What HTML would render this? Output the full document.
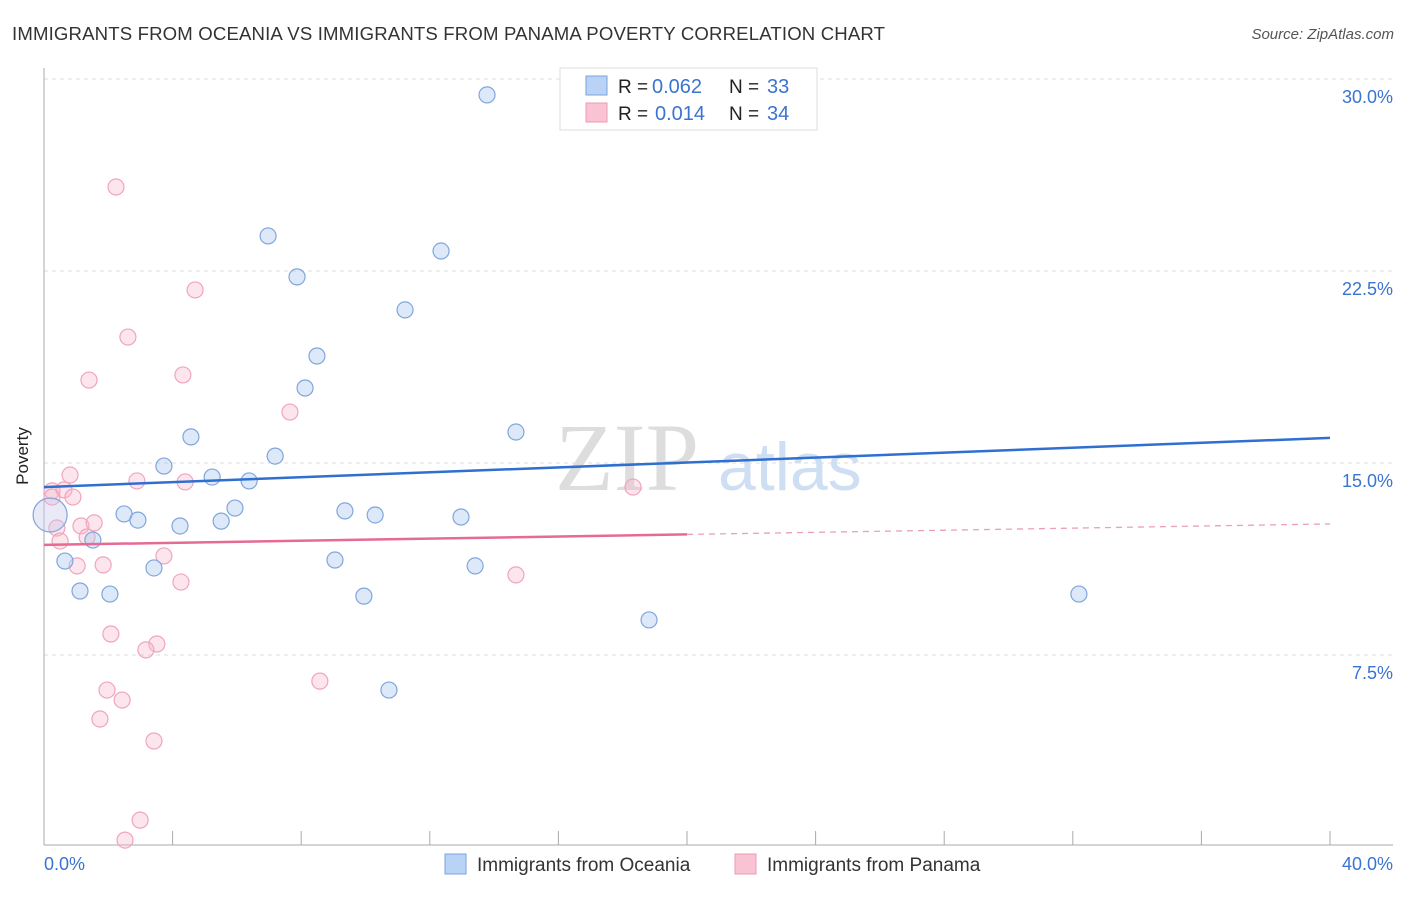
<!DOCTYPE html>
<html><head><meta charset="utf-8"><style>
body{margin:0;background:#fff;font-family:"Liberation Sans",sans-serif}
</style></head><body>
<svg width="1406" height="892" font-family="Liberation Sans, sans-serif">
<text x="12" y="40" font-size="18.6" fill="#333" textLength="873">IMMIGRANTS FROM OCEANIA VS IMMIGRANTS FROM PANAMA POVERTY CORRELATION CHART</text>
<text x="1394" y="39" font-size="15" fill="#555" font-style="italic" text-anchor="end">Source: ZipAtlas.com</text>
<text x="555" y="490" font-size="96" fill="#ddd" font-family="Liberation Serif, serif">ZIP</text>
<text x="718" y="490" font-size="68" fill="#cfdff3">atlas</text>
<g id="grid"></g>
<line x1="44" y1="68" x2="44" y2="845" stroke="#aaa"/>
<line x1="44" y1="845" x2="1393" y2="845" stroke="#aaa"/>
<text x="28" y="456" font-size="17" fill="#222" transform="rotate(-90 28 456)" text-anchor="middle">Poverty</text>
<text x="44" y="870" font-size="18" fill="#3a74d0">0.0%</text>
<text x="1393" y="870" font-size="18" fill="#3a74d0" text-anchor="end">40.0%</text>
<g id="pts"></g>
<g id="lines"></g>
<g>
<rect x="560" y="68" width="257" height="62" fill="#fff" stroke="#ddd"/>
<rect x="586" y="76" width="21" height="19" fill="#b8d3f5" stroke="#7ba3dc"/>
<rect x="586" y="103" width="21" height="19" fill="#f9c3d3" stroke="#eb9ab3"/>
<text x="618" y="93" font-size="19" fill="#222">R =</text>
<text x="652" y="93" font-size="20" fill="#3a74d0">0.062</text>
<text x="729" y="93" font-size="19" fill="#222">N =</text>
<text x="767" y="93" font-size="20" fill="#3a74d0">33</text>
<text x="618" y="120" font-size="19" fill="#222">R =</text>
<text x="655" y="120" font-size="20" fill="#3a74d0">0.014</text>
<text x="729" y="120" font-size="19" fill="#222">N =</text>
<text x="767" y="120" font-size="20" fill="#3a74d0">34</text>
</g>
<g>
<rect x="445" y="854" width="21" height="20" fill="#b8d3f5" stroke="#7ba3dc"/>
<text x="477" y="871" font-size="19" fill="#333">Immigrants from Oceania</text>
<rect x="735" y="854" width="21" height="20" fill="#f9c3d3" stroke="#eb9ab3"/>
<text x="767" y="871" font-size="19" fill="#333">Immigrants from Panama</text>
</g>
</svg>
<script>
const yTicks=[7.5,15,22.5,30];
const yTickLabels=["7.5%","15.0%","22.5%","30.0%"];
const blueX=[13.78,6.97,12.35,7.87,11.23,8.49,8.12,4.57,14.68,3.73,7.19,5.23,6.38,2.49,2.92,4.23,5.51,5.94,9.36,10.30,12.97,1.52,0.65,3.42,9.05,13.41,1.12,2.05,9.95,18.82,32.19,10.73,0.19];
const blueY=[29.38,23.87,23.28,22.27,20.98,19.18,17.93,16.02,16.21,14.88,15.27,14.45,14.30,13.01,12.77,12.54,12.73,13.24,13.13,12.97,12.89,11.99,11.17,10.90,11.21,10.98,10.00,9.88,9.80,8.87,9.88,6.13,12.97];
const pinkX=[2.24,4.70,2.61,1.40,4.32,7.65,0.81,2.89,4.39,0.25,0.62,0.90,18.32,1.15,1.56,0.40,1.34,0.50,3.73,1.03,1.84,4.26,14.68,2.08,3.51,3.17,1.96,8.58,2.43,1.74,3.42,2.99,2.52,0.25];
const pinkY=[25.78,21.76,19.92,18.24,18.44,16.99,14.53,14.30,14.26,13.91,13.95,13.67,14.06,12.54,12.66,12.46,12.11,11.95,11.37,10.98,11.02,10.35,10.63,8.32,7.93,7.70,6.13,6.48,5.74,5.00,4.14,1.05,0.27,13.67];
const blueTrend=[14.06,15.98];
const pinkTrend=[11.80,12.62];
const xs=v=>44+v/40*1286, ys=v=>847-v*25.6;
const NS="http://www.w3.org/2000/svg";
function mk(t,a,p){const e=document.createElementNS(NS,t);for(const k in a)e.setAttribute(k,a[k]);p.appendChild(e);return e;}
const grid=document.getElementById('grid');
yTicks.forEach((t,i)=>{
 const l=mk('line',{x1:44,x2:1393,y1:ys(t),y2:ys(t),stroke:'#ddd','stroke-dasharray':'4 4'},grid);
 
 
 const tx=mk('text',{x:1393,y:ys(t)+24,'font-size':18,fill:'#3a74d0','text-anchor':'end'},grid);
 tx.textContent=yTickLabels[i];
 
 
});
for(let i=0;i<=10;i++){
 const tk=mk('line',{x1:xs(i*4),x2:xs(i*4),y1:831,y2:845,stroke:'#aaa'},grid);
 
 
}
const pts=document.getElementById('pts');
pinkX.forEach((x,i)=>{
 const c=mk('circle',{cx:xs(x),cy:ys(pinkY[i]),r:8,fill:'rgba(247,180,200,0.35)',stroke:'#f0a5bd','stroke-width':1.2},pts);
 
 
});
blueX.forEach((x,i)=>{
 const c=mk('circle',{cx:xs(x),cy:ys(blueY[i]),r:i==32?17:8,fill:i==32?'rgba(200,200,235,0.4)':'rgba(170,200,240,0.4)',stroke:'#7fa6dc','stroke-width':1.2},pts);
 
 
});
const lines=document.getElementById('lines');
const bl=mk('line',{x1:xs(0),x2:xs(40),y1:ys(blueTrend[0]),y2:ys(blueTrend[1]),stroke:'#2f6fd0','stroke-width':2.5},lines);


const pm=v=>pinkTrend[0]+(pinkTrend[1]-pinkTrend[0])*v/40;
const pl=mk('line',{x1:xs(0),x2:xs(20),y1:ys(pm(0)),y2:ys(pm(20)),stroke:'#e56b93','stroke-width':2.5},lines);


const pd=mk('line',{x1:xs(20),x2:xs(40),y1:ys(pm(20)),y2:ys(pm(40)),stroke:'#e9a0b8','stroke-width':1.3,'stroke-dasharray':'6 5'},lines);


</script>
</body></html>
